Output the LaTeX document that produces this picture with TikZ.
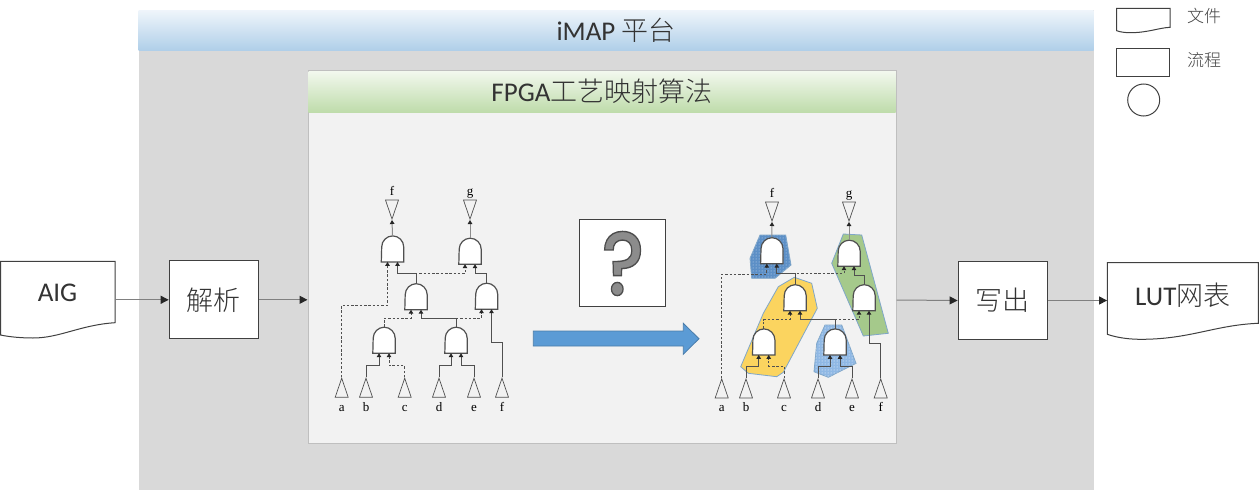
\documentclass[tikz,border=0pt]{standalone}
\usepackage{fontspec}
\setmainfont{Carlito}
\newfontfamily\cjk{Noto Sans CJK SC Light}
\newfontfamily\qfont{Poppins Medium}
\newfontfamily\lblfont{Liberation Serif}
\usetikzlibrary{shapes.geometric, arrows.meta, patterns}
\definecolor{edgegray}{HTML}{404040}
\definecolor{wiregray}{HTML}{505050}
\definecolor{polyedge}{HTML}{7FA6C9}
\definecolor{barblue}{HTML}{B0CFE9}
\definecolor{bargreen}{HTML}{BFDCAB}
\definecolor{arrowblue}{HTML}{5B9BD5}
\definecolor{coverdark}{HTML}{5C8FC6}
\definecolor{coverlight}{HTML}{8FB8E4}
\definecolor{covergold}{HTML}{FBD45F}
\definecolor{covergreen}{HTML}{A5C98B}
\tikzset{>={Triangle[length=4pt,width=4.5pt,color=black!85]},
    wire/.style={wiregray, line width=1pt},
    dashwire/.style={wire, dash pattern=on 2.5pt off 1.8pt},
    link/.style={draw=gray, line width=1pt, -{Triangle[length=8pt,width=8pt,color=black!85]}},
    title/.style={text=black!80, font=\fontsize{27}{30}\selectfont},
    stepbox/.style={draw=edgegray, fill=white, line width=1.2pt, minimum width=89pt, minimum height=78pt, text=black!80, font=\fontsize{27}{30}\selectfont\cjk},
    docline/.style={draw=edgegray, fill=white, line width=1pt},
    andbox/.style={inner sep=0pt, minimum width=22pt, minimum height=26pt},
    gateline/.style={draw=wiregray, fill=white, line width=1.2pt},
    inp/.style={isosceles triangle, isosceles triangle stretches, draw=wiregray, line width=0.7pt, rotate=90, anchor=apex, inner sep=0pt, minimum width=13pt, minimum height=19pt},
    outp/.style={isosceles triangle, isosceles triangle stretches, draw=wiregray, line width=0.7pt, rotate=-90, anchor=apex, inner sep=0pt, minimum width=13pt, minimum height=19pt},
    lbl/.style={anchor=base, inner sep=0pt, font=\fontsize{13}{14}\selectfont\lblfont},
    poly/.style={draw=polyedge, line width=0.8pt}
}
\newcommand{\andgate}[3]{
    \node[andbox] (#1) at (#2,#3) {};
    \draw[gateline] (#1.south west) -- (#1.south east) -- ++(0,-15) .. controls +(0,-6) and +(6,0) .. ++(-11,-11) .. controls +(-6,0) and +(0,-6) .. ++(-11,11) -- cycle;
}

\begin{document}
\begin{tikzpicture}[x=1pt, y=-1pt]
    \useasboundingbox (0,0) rectangle (1259,490);
    % panels
    \node[fill=black!15, minimum width=955pt, minimum height=480pt, inner sep=0pt] (imap) at (616,250) {};
    \node[title, top color=barblue!20!white, bottom color=barblue, minimum width=955pt, minimum height=40pt, inner sep=0pt] (imapbar) at (616,30) {iMAP {\cjk 平台}};
    \node[draw=black!25, fill=black!5, line width=1pt, minimum width=588pt, minimum height=373pt, inner sep=0pt] (algo) at (602,256.5) {};
    \node[title, top color=bargreen!20!white, bottom color=bargreen, minimum width=587pt, minimum height=41pt, inner sep=0pt] (algobar) at (602,91.5) {FPGA{\cjk 工艺映射算法}};
    % input and output files
    \draw[docline] (0.5,261.3) -- (115,261.3) -- (115,322.7) .. controls (80,325) and (60,338) .. (33,338) .. controls (22,338) and (10,337) .. (0.5,335) -- cycle;
    \node[title, minimum width=114pt, minimum height=61pt, inner sep=0pt] (aig) at (57.5,293) {AIG};
    \draw[docline] (1107.3,262.7) -- (1258.3,262.7) -- (1258.3,323.3) .. controls (1215,325) and (1190,339.3) .. (1141,339.3) .. controls (1130,339.3) and (1118,338) .. (1107.3,334.3) -- cycle;
    \node[title, minimum width=151pt, minimum height=61pt, inner sep=0pt] (lut) at (1182.8,295) {LUT{\cjk 网表}};
    % steps
    \node[stepbox] (parse) at (213.8,299.8) {\raisebox{-2pt}{解析}};
    \node[stepbox] (write) at (1002.7,300.5) {\raisebox{-2pt}{写出}};
    \draw[link] (aig.east |- parse.west) -- (parse.west);
    \draw[link] (parse.east) -- (parse.east -| algo.west);
    \draw[link] (algo.east |- 0,300) -- (write.west);
    \draw[link] (write.east) -- (lut.west |- write.east);
    % question box and arrow
    \node[draw=edgegray, fill=white, line width=1.2pt, minimum width=86pt, minimum height=87pt, inner sep=0pt] (ask) at (622.5,263.2) {};
    \node[inner sep=0pt, text=black!45, font=\fontsize{98}{98}\selectfont\qfont] (qmark) at (623,263.5) {\scalebox{0.82}[0.92]{\special{pdf:code q 2 Tr 1.5 w 0.3 0.3 0.3 RG}?\special{pdf:code Q}}};
    \draw[draw=arrowblue!80!black, fill=arrowblue, line width=0.8pt] (533.3,331) -- (683.3,331) -- (683.3,323.3) -- (699,338.7) -- (683.3,354.3) -- (683.3,346) -- (533.3,346) -- cycle;

    % left network
    \andgate{F1}{392.5}{248.7}
    \andgate{G1}{470}{251}
    \andgate{M1}{416}{296.5}
    \andgate{N1}{486.5}{296}
    \andgate{P1}{384}{340}
    \andgate{Q1}{456}{340}
    \node[inp] (a1) at (341.7,377.3) {};
    \node[inp] (b1) at (366,377.3) {};
    \node[inp] (c1) at (404.7,377.3) {};
    \node[inp] (d1) at (439,377.3) {};
    \node[inp] (e1) at (474,377.3) {};
    \node[inp] (f1) at (502,377.3) {};
    \node[outp] (fo1) at (392,220) {};
    \node[outp] (go1) at (470,220) {};
    \node[lbl] (ta1) at (341.7,411.5) {a};
    \node[lbl] (tb1) at (366,411.5) {b};
    \node[lbl] (tc1) at (404.7,411.5) {c};
    \node[lbl] (td1) at (439,411.5) {d};
    \node[lbl] (te1) at (474,411.5) {e};
    \node[lbl] (tf1) at (502,411.5) {f};
    \node[lbl] (tfo1) at (392,195) {f};
    \node[lbl] (tgo1) at (470,195) {g};
    \draw[wire, ->] (b1.apex) -- ++(0,-11.6) -| ([xshift=-5pt]P1.south);
    \draw[dashwire, ->] (c1.apex) -- ++(0,-11.6) -| ([xshift=5pt]P1.south);
    \draw[wire, ->] (d1.apex) -- ++(0,-11.6) -| ([xshift=-5pt]Q1.south);
    \draw[wire, ->] (e1.apex) -- ++(0,-11.6) -| ([xshift=5pt]Q1.south);
    \draw[dashwire, ->] (P1.north) -- ++(0,-8.7) -| ([xshift=-5pt]M1.south);
    \draw[wire, ->] (Q1.north) -- ++(0,-8.7) -| ([xshift=5pt]M1.south);
    \draw[dashwire, ->] (Q1.north) -- ++(0,-8.7) -| ([xshift=-5pt]N1.south);
    \draw[wire, ->] (f1.apex) -- ++(0,-34.6) -| ([xshift=5pt]N1.south);
    \draw[dashwire, ->] (a1.apex) -- ++(0,-72.3) -| ([xshift=-5pt]F1.south);
    \draw[wire, ->] (M1.north) -- ++(0,-9.7) -| ([xshift=5pt]F1.south);
    \draw[dashwire, ->] (M1.north) -- ++(0,-9.7) -| ([xshift=-5pt]G1.south);
    \draw[wire, ->] (N1.north) -- ++(0,-9.7) -| ([xshift=5pt]G1.south);
    \draw[wire, black!45, ->] (F1.north) -- (fo1.apex);
    \draw[wire, black!45, ->] (G1.north) -- (go1.apex);

    % covered network
    \draw[poly, fill=coverdark, postaction={pattern=dots, pattern color=white!70!coverdark}] (760,235) -- (785.7,235) -- (791,265) -- (775,278.3) -- (751.7,278.3) -- (750,258.3) -- cycle;
    \draw[poly, fill=covergold] (794.3,277.3) -- (811.7,283.3) -- (817.3,308.3) -- (783.3,372.3) -- (776.7,376.7) -- (748.3,373.3) -- (740.7,366.7) -- (763.3,313.3) -- (778.3,286.7) -- cycle;
    \draw[poly, fill=coverlight, postaction={pattern=dots, pattern color=white}] (825,325) -- (841.7,325) -- (856,363.3) -- (828.3,377.3) -- (814,371.7) -- (816.7,343.3) -- cycle;
    \draw[poly, fill=covergreen] (843.3,234) -- (861.7,235) -- (888.3,333.3) -- (863.3,336) -- (831.7,263.3) -- cycle;
    \andgate{F2}{771.8}{250.5}
    \andgate{G2}{849}{253}
    \andgate{M2}{795}{297.5}
    \andgate{N2}{864}{297.5}
    \andgate{P2}{763.7}{341.7}
    \andgate{Q2}{835}{341.7}
    \node[inp] (a2) at (721.7,378) {};
    \node[inp] (b2) at (746,378) {};
    \node[inp] (c2) at (784,378) {};
    \node[inp] (d2) at (818,378) {};
    \node[inp] (e2) at (852,378) {};
    \node[inp] (f2) at (880.7,378) {};
    \node[outp] (fo2) at (772,222) {};
    \node[outp] (go2) at (849,222) {};
    \node[lbl] (ta2) at (721.7,411.5) {a};
    \node[lbl] (tb2) at (746,411.5) {b};
    \node[lbl] (tc2) at (784,411.5) {c};
    \node[lbl] (td2) at (818,411.5) {d};
    \node[lbl] (te2) at (852,411.5) {e};
    \node[lbl] (tf2) at (880.7,411.5) {f};
    \node[lbl] (tfo2) at (772,197) {f};
    \node[lbl] (tgo2) at (849,197) {g};
    \draw[wire, ->] (b2.apex) -- ++(0,-12) -| ([xshift=-5pt]P2.south);
    \draw[dashwire, ->] (c2.apex) -- ++(0,-12) -| ([xshift=5pt]P2.south);
    \draw[wire, ->] (d2.apex) -- ++(0,-12) -| ([xshift=-5pt]Q2.south);
    \draw[wire, ->] (e2.apex) -- ++(0,-12) -| ([xshift=5pt]Q2.south);
    \draw[dashwire, ->] (P2.north) -- ++(0,-9) -| ([xshift=-5pt]M2.south);
    \draw[wire, ->] (Q2.north) -- ++(0,-9) -| ([xshift=5pt]M2.south);
    \draw[dashwire, ->] (Q2.north) -- ++(0,-9) -| ([xshift=-5pt]N2.south);
    \draw[wire, ->] (f2.apex) -- ++(0,-34.7) -| ([xshift=5pt]N2.south);
    \draw[dashwire, ->] (a2.apex) -- ++(0,-104) -| ([xshift=-5pt]F2.south);
    \draw[wire, ->] (M2.north) -- ++(0,-11) -| ([xshift=5pt]F2.south);
    \draw[dashwire, ->] (M2.north) -- ++(0,-11) -| ([xshift=-5pt]G2.south);
    \draw[wire, ->] (N2.north) -- ++(0,-9.3) -| ([xshift=5pt]G2.south);
    \draw[wire, black!45, ->] (F2.north) -- (fo2.apex);
    \draw[wire, black!45, ->] (G2.north) -- (go2.apex);

    % legend
    \draw[docline] (1116.7,8.3) -- (1170,8.3) -- (1170,27.3) .. controls (1158,28) and (1148,32.7) .. (1130,32.7) .. controls (1125,32.7) and (1120,32) .. (1116.7,30.7) -- cycle;
    \node[anchor=west, inner sep=0pt, text=black!75, font=\fontsize{17}{18}\selectfont\cjk] (tfile) at (1187,16) {文件};
    \node[draw=edgegray, line width=1pt, minimum width=53.3pt, minimum height=27.7pt, inner sep=0pt] (lflow) at (1143.3,62.2) {};
    \node[anchor=west, inner sep=0pt, text=black!75, font=\fontsize{17}{18}\selectfont\cjk] (tflow) at (1187,60) {流程};
    \node[circle, draw=edgegray, line width=1pt, minimum size=32pt, inner sep=0pt] (lcirc) at (1143.7,100) {};
\end{tikzpicture}
\end{document}
